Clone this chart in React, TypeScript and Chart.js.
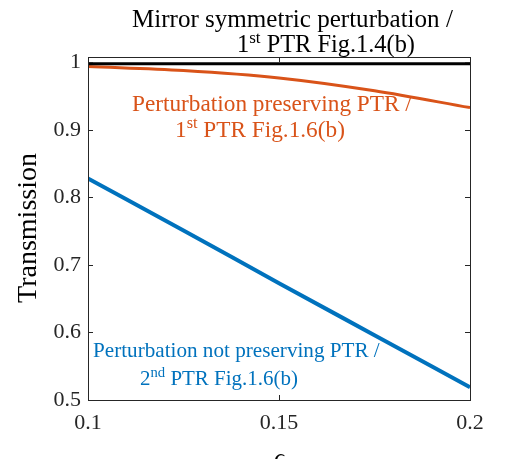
import React, { useEffect, useRef } from "react";
import { Chart, registerables } from "chart.js";

Chart.register(...registerables);

const epsilon = [0.1, 0.125, 0.15, 0.175, 0.2];
const mirrorSymmetric = [0.998, 0.998, 0.998, 0.998, 0.998];
const preservingPTR = [0.994, 0.988, 0.977, 0.958, 0.933];
const notPreservingPTR = [0.828, 0.751, 0.673, 0.596, 0.519];
const xTicks = [0.1, 0.15, 0.2];
const yTicks = [0.5, 0.6, 0.7, 0.8, 0.9, 1];

const FONT = "'Liberation Serif', 'DejaVu Serif', serif";
const BLACK = "#000000";
const ORANGE = "#D95319";
const BLUE = "#0072BD";
const AXIS = "#262626";

function drawSup(ctx: CanvasRenderingContext2D, x: number, y: number, size: number, base: string, sup: string, rest: string, color: string, targetW: number) {
  ctx.font = `${size}px ${FONT}`;
  const wb = ctx.measureText(base).width;
  ctx.font = `${size * 0.7}px ${FONT}`;
  const ws = ctx.measureText(sup).width;
  ctx.font = `${size}px ${FONT}`;
  const wr = ctx.measureText(" " + rest).width;
  const total = wb + ws + wr;
  const k = targetW / total;
  const s = size * k;
  ctx.fillStyle = color;
  ctx.textAlign = "left";
  ctx.textBaseline = "alphabetic";
  ctx.font = `${s}px ${FONT}`;
  ctx.fillText(base, x, y);
  let cx = x + wb * k;
  ctx.font = `${s * 0.7}px ${FONT}`;
  ctx.fillText(sup, cx, y - s * 0.38);
  cx += ws * k;
  ctx.font = `${s}px ${FONT}`;
  ctx.fillText(" " + rest, cx, y);
}

function drawFit(ctx: CanvasRenderingContext2D, text: string, x: number, y: number, size: number, color: string, targetW: number) {
  ctx.font = `${size}px ${FONT}`;
  const w = ctx.measureText(text).width;
  const s = size * targetW / w;
  ctx.font = `${s}px ${FONT}`;
  ctx.fillStyle = color;
  ctx.textAlign = "left";
  ctx.textBaseline = "alphabetic";
  ctx.fillText(text, x, y);
}

const decorPlugin = {
  id: "decor",
  afterDraw(chart: any) {
    const ctx = chart.ctx as CanvasRenderingContext2D;
    const a = chart.chartArea;
    const xs = chart.scales.x;
    const ys = chart.scales.y;
    ctx.save();
    ctx.strokeStyle = AXIS;
    ctx.lineWidth = 1;
    ctx.strokeRect(Math.round(a.left) + 0.5, Math.round(a.top) + 0.5, Math.round(a.right - a.left), Math.round(a.bottom - a.top));
    const tl = 5;
    ctx.beginPath();
    xTicks.forEach((v) => {
      const px = Math.round(xs.getPixelForValue(v)) + 0.5;
      ctx.moveTo(px, a.bottom);
      ctx.lineTo(px, a.bottom - tl);
      ctx.moveTo(px, a.top);
      ctx.lineTo(px, a.top + tl);
    });
    yTicks.forEach((v) => {
      const py = Math.round(ys.getPixelForValue(v)) + 0.5;
      ctx.moveTo(a.left, py);
      ctx.lineTo(a.left + tl, py);
      ctx.moveTo(a.right, py);
      ctx.lineTo(a.right - tl, py);
    });
    ctx.stroke();

    drawFit(ctx, "Mirror symmetric perturbation /", 132, 27, 20, BLACK, 321);
    drawSup(ctx, 237, 52, 20, "1", "st", "PTR Fig.1.4(b)", BLACK, 178);
    drawFit(ctx, "Perturbation preserving PTR /", 132, 111, 20, ORANGE, 280);
    drawSup(ctx, 175, 137, 20, "1", "st", "PTR Fig.1.6(b)", ORANGE, 170);
    drawFit(ctx, "Perturbation not preserving PTR /", 93, 357, 17, BLUE, 287);
    drawSup(ctx, 140, 385, 17, "2", "nd", "PTR Fig.1.6(b)", BLUE, 158);

    ctx.fillStyle = BLACK;
    ctx.font = `italic 24px ${FONT}`;
    ctx.textAlign = "center";
    ctx.textBaseline = "alphabetic";
    ctx.fillText("\u03F5", 279, 465);
    ctx.save();
    ctx.translate(36, 228);
    ctx.rotate(-Math.PI / 2);
    ctx.font = `22px ${FONT}`;
    const w = ctx.measureText("Transmission").width;
    ctx.font = `${22 * 150 / w}px ${FONT}`;
    ctx.fillText("Transmission", 0, 0);
    ctx.restore();
    ctx.restore();
  },
};

export default function App() {
  const ref = useRef<HTMLCanvasElement>(null);
  useEffect(() => {
    document.body.style.margin = "0";
    const mk = (vals: number[]) => epsilon.map((x, i) => ({ x, y: vals[i] }));
    const chart = new Chart(ref.current!, {
      type: "line",
      data: {
        datasets: [
          { data: mk(mirrorSymmetric), borderColor: BLACK, borderWidth: 3, pointRadius: 0, tension: 0 },
          { data: mk(preservingPTR), borderColor: ORANGE, borderWidth: 3, pointRadius: 0, cubicInterpolationMode: "monotone" },
          { data: mk(notPreservingPTR), borderColor: BLUE, borderWidth: 4, pointRadius: 0, cubicInterpolationMode: "monotone" },
        ],
      },
      options: {
        animation: false,
        responsive: false,
        devicePixelRatio: 1,
        layout: { padding: { top: 57, right: 35, left: 0, bottom: 0 } },
        plugins: { legend: { display: false }, title: { display: false }, tooltip: { enabled: false } },
        scales: {
          x: {
            type: "linear",
            min: 0.1,
            max: 0.2,
            grid: { display: false, drawTicks: false },
            border: { display: false },
            afterBuildTicks: (s: any) => { s.ticks = xTicks.map((v) => ({ value: v })); },
            afterFit: (s: any) => { s.height = 59; },
            ticks: {
              color: AXIS,
              padding: 10,
              maxRotation: 0,
              font: { family: FONT, size: 22 },
              callback: (v: any) => String(Math.round(Number(v) * 100) / 100),
            },
          },
          y: {
            type: "linear",
            min: 0.5,
            max: 1.008,
            grid: { display: false, drawTicks: false },
            border: { display: false },
            afterBuildTicks: (s: any) => { s.ticks = yTicks.map((v) => ({ value: v })); },
            afterFit: (s: any) => { s.width = 88; },
            ticks: {
              color: AXIS,
              padding: 7,
              font: { family: FONT, size: 22 },
              callback: (v: any) => String(Math.round(Number(v) * 10) / 10),
            },
          },
        },
      },
      plugins: [decorPlugin],
    } as any);
    return () => chart.destroy();
  }, []);
  return (
    <div style={{ position: "absolute", left: 0, top: 0, width: 505, height: 459, background: "#fff" }}>
      <canvas ref={ref} width={505} height={459} />
    </div>
  );
}
